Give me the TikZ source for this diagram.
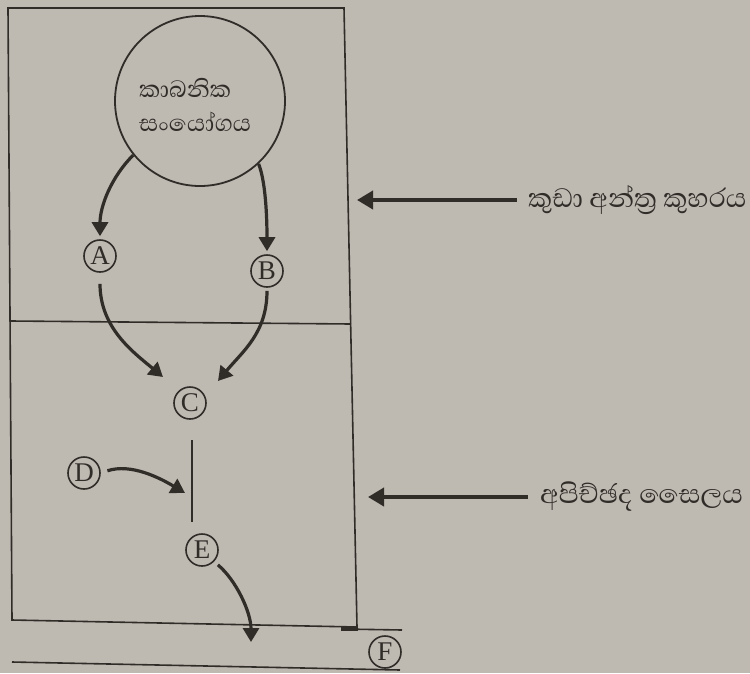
\documentclass[tikz,border=0pt]{standalone}
\usepackage{fontspec}
\usetikzlibrary{arrows.meta}
\newfontfamily\sinfont[Script=Sinhala]{Abhaya Libre}
\setmainfont{Liberation Serif}
\definecolor{paper}{RGB}{190,185,177}
\definecolor{ink}{RGB}{48,44,40}
\tikzset{
  ink/.style={draw=ink, line width=1.6pt},
  curvarr/.style={draw=ink, line width=3.2pt, -{Triangle[length=14pt,width=16pt]}},
  sidearr/.style={draw=ink, line width=3.8pt, -{Triangle[length=16pt,width=18pt]}},
  letter/.style={circle, draw=ink, line width=1.6pt, minimum size=32pt, inner sep=0pt, font=\fontsize{27}{27}\selectfont, text=ink},
  sinlabel/.style={font=\sinfont\fontsize{34}{36}\selectfont, text=ink, anchor=west, inner sep=0pt},
  cirlabel/.style={font=\sinfont\fontsize{30}{32}\selectfont, text=ink, anchor=west, inner sep=0pt},
}
\begin{document}
\begin{tikzpicture}[x=1pt, y=-1pt]
\fill[paper] (0,0) rectangle (750,673);
\useasboundingbox (0,0) rectangle (750,673);
% outer frame
\draw[ink] (357,627) -- (344,8) -- (8,8) -- (12,620) -- (357,627);
\draw[ink] (11,321) -- (351,324);
\draw[ink] (342,629) -- (402,630);
\draw[draw=ink, line width=3.5pt] (341,629) -- (358,629);
\draw[ink] (12,662) -- (400,670);
% big circle
\node[circle, draw=ink, line width=1.8pt, minimum size=170pt, inner sep=0pt] (big) at (200,101) {};
\node[cirlabel] (t1) at (139,88) {කාබනික};
\node[cirlabel] (t2) at (139,122) {සංයෝගය};
% letters
\node[letter] (A) at (100,256) {A};
\node[letter] (B) at (267,271) {B};
\node[letter] (C) at (190,403) {C};
\node[letter] (D) at (84,473) {D};
\node[letter] (E) at (202,550) {E};
\node[letter] (F) at (385,652) {F};
\coordinate (l1) at (192,440);
\coordinate (l2) at (192,522);
\coordinate (dm) at (185,493);
\coordinate (eout) at (251,642);
% arrows
\draw[curvarr] (big.219) .. controls +(-22,22) and +(0,-30) .. ([yshift=3pt]A.north);
\draw[curvarr] (big.313) .. controls +(8,20) and +(0,-25) .. ([yshift=3pt]B.north);
\draw[curvarr, shorten <=11pt] (A.south) .. controls +(0,55) and +(-30,-25) .. ([xshift=-27pt,yshift=26pt]C.center);
\draw[curvarr, shorten <=3pt] (B.south) .. controls +(0,45) and +(25,-30) .. ([xshift=28pt,yshift=22pt]C.center);
\draw[ink] (l1) -- (l2);
\draw[curvarr, shorten <=7pt] (D.east) .. controls +(30,-10) and +(-25,-15) .. (dm);
\draw[curvarr] ([xshift=4pt,yshift=-3pt]E.south east) .. controls +(18,15) and +(0,-30) .. (eout);
% side labels
\node[sinlabel] (lab1) at (528,200) {කුඩා අන්ත්‍ර කුහරය};
\node[sinlabel] (lab2) at (540,497) {අපිච්ඡද සෛලය};
\draw[sidearr] ([xshift=-11pt]lab1.west) -- (357,200);
\draw[sidearr] ([xshift=-12pt]lab2.west) -- (368,497);
\end{tikzpicture}
\end{document}
